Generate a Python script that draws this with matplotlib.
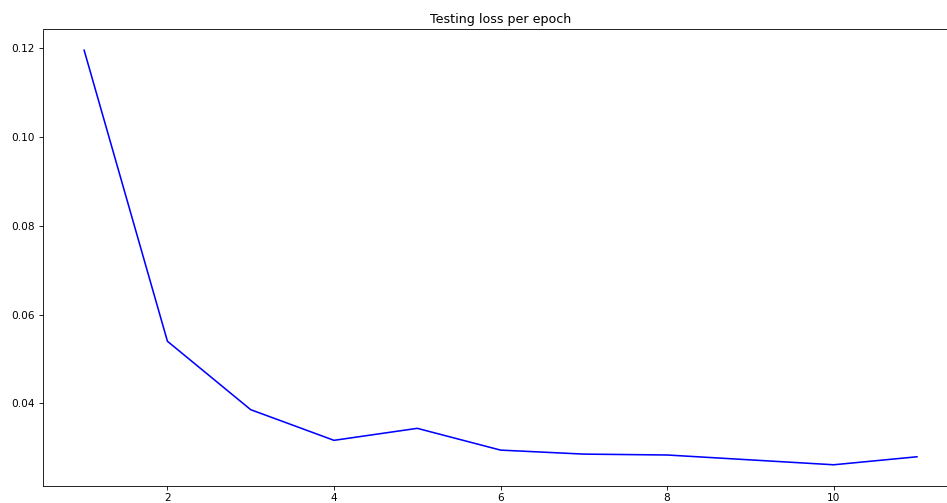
import matplotlib
matplotlib.use("Agg")
import matplotlib.pyplot as plt

# Testing loss values
epochs = [1, 2, 3, 4, 5, 6, 7, 8, 9, 10, 11]
test_loss = [0.1195, 0.0540, 0.0386, 0.0317, 0.0344, 0.0295, 0.0286, 0.0284,
             0.0273, 0.0262, 0.0280]

DPI = 76
W, H = 947, 503
fig = plt.figure(figsize=(W / DPI, H / DPI), dpi=DPI)

# axes runs slightly past the right edge, as in the cropped original
left, right = 42.5 / W, 958.6 / W
bottom, top = (H - 485.5) / H, (H - 29.5) / H
ax = fig.add_axes([left, bottom, right - left, top - bottom])

ax.plot(epochs, test_loss, color="blue")
ax.set_title("Testing loss per epoch")
ax.set_xticks([2, 4, 6, 8, 10])

fig.savefig("out.png", dpi=DPI)
